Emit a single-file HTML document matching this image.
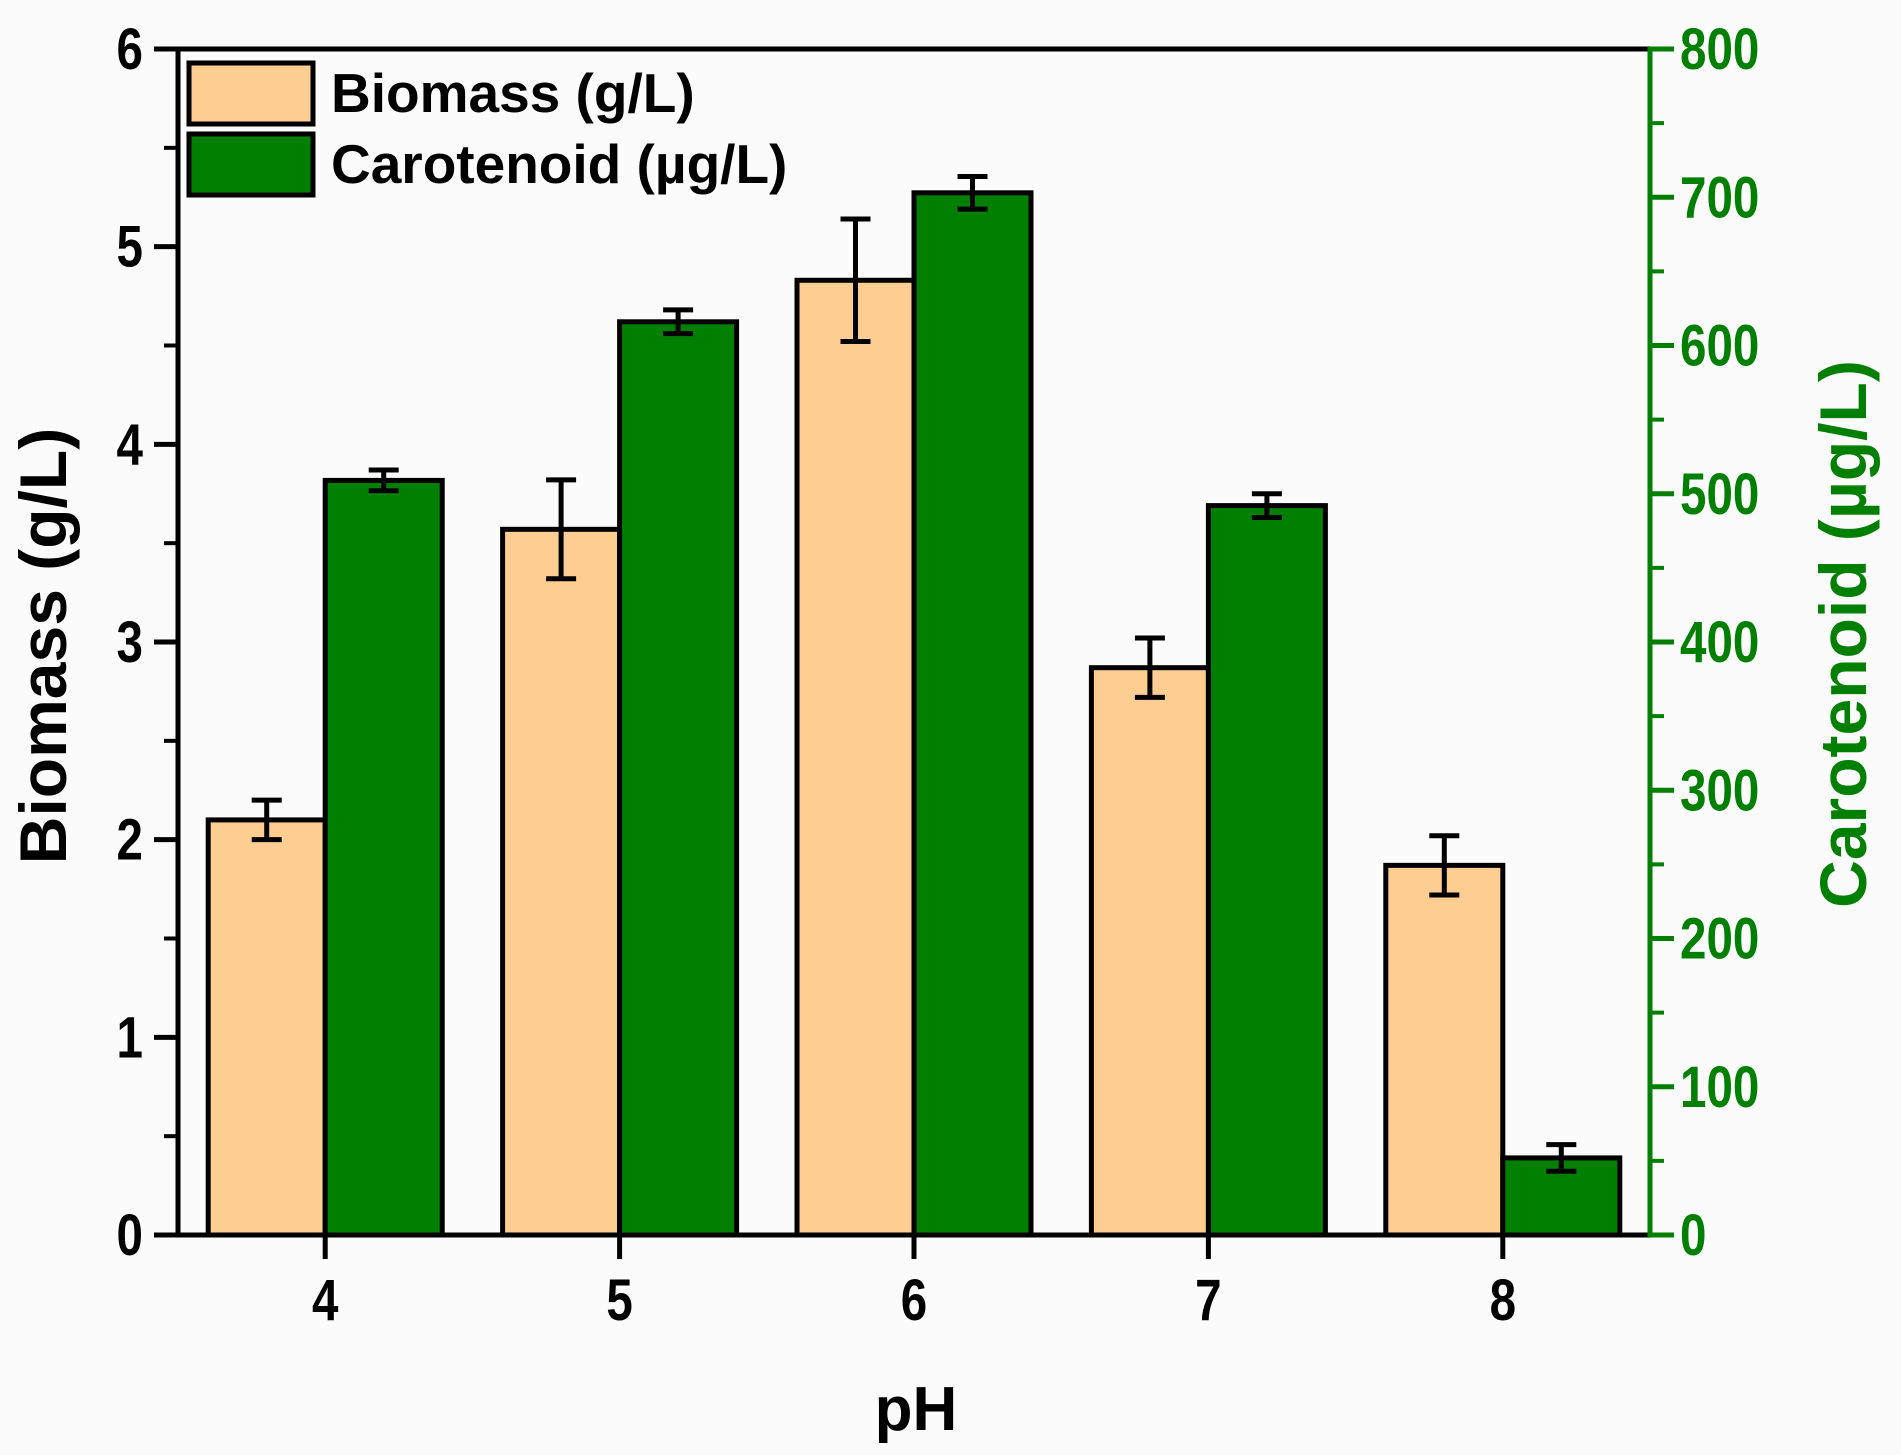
<!DOCTYPE html>
<html><head><meta charset="utf-8"><style>
html,body{margin:0;padding:0;background:#fafbfa;}
svg{display:block;font-family:"Liberation Sans",Arial,sans-serif;font-weight:bold;}
</style></head><body>
<svg id="chart" width="1901" height="1455" viewBox="0 0 1901 1455" xmlns="http://www.w3.org/2000/svg">
<rect x="0" y="0" width="1901" height="1455" fill="#fafbfa"/>
<g id="bars"></g>
<g id="axes"></g>
<g>
<rect x="189" y="63" width="124" height="61" fill="#fecd92" stroke="#000" stroke-width="5"/>
<text x="331" y="112" font-size="55">Biomass (g/L)</text>
<rect x="189" y="134" width="124" height="61" fill="#007f00" stroke="#000" stroke-width="5"/>
<text x="331" y="183" font-size="55">Carotenoid (µg/L)</text>
</g>
<text x="0" y="0" transform="translate(66,646) rotate(-90)" text-anchor="middle" font-size="66">Biomass (g/L)</text>
<text x="0" y="0" transform="translate(1866,634) rotate(-90)" text-anchor="middle" font-size="66" fill="#007f00">Carotenoid (µg/L)</text>
<text x="916" y="1430" text-anchor="middle" font-size="62">pH</text>
</svg>
<script>
const categories = ["4","5","6","7","8"];
const biomass = [2.1, 3.57, 4.83, 2.87, 1.87];
const biomassErr = [0.1, 0.25, 0.31, 0.15, 0.15];
const carotenoid = [509, 616, 703, 492, 52];
const carotenoidErr = [7, 8, 11, 8, 9];
const leftTicks = [0,1,2,3,4,5,6];
const rightTicks = [0,100,200,300,400,500,600,700,800];

const NS = "http://www.w3.org/2000/svg";
const L = 178, R = 1650, T = 49, B = 1235;
const xMin = 3.5, xMax = 8.5;
function xScale(i){ return L + ((i + 4) - xMin) / (xMax - xMin) * (R - L); }
function yLeft(v){ return B - v / 6 * (B - T); }
function yRight(v){ return B - v / 800 * (B - T); }
const bw = 117;
function mk(tag, attrs, parent){
  const e = document.createElementNS(NS, tag);
  for (const k in attrs) e.setAttribute(k, attrs[k]);
  parent.appendChild(e);
  return e;
}
const barsG = document.getElementById('bars');
const axesG = document.getElementById('axes');
function errBar(cx, yTop, yBot, name){
  const g = mk('g', {stroke:'#000','stroke-width':5}, barsG);
  
  
  mk('line', {x1:cx,x2:cx,y1:yTop,y2:yBot}, g);
  mk('line', {x1:cx-15,x2:cx+15,y1:yTop,y2:yTop}, g);
  mk('line', {x1:cx-15,x2:cx+15,y1:yBot,y2:yBot}, g);
}
function label(txt, x, y, anchor, fill, name){
  const t = mk('text', {transform:'translate(' + x + ',' + y + ') scale(0.82,1)', 'text-anchor':anchor, 'font-size':58, fill:fill}, axesG);
  t.textContent = txt;
  
  
}
categories.forEach((c, i) => {
  const cx = xScale(i);
  const y1 = yLeft(biomass[i]);
  const b = mk('rect', {x:cx-bw, y:y1, width:bw, height:B-y1, fill:'#fecd92', stroke:'#000','stroke-width':5}, barsG);
  
  
  const y2 = yRight(carotenoid[i]);
  const g = mk('rect', {x:cx, y:y2, width:bw, height:B-y2, fill:'#007f00', stroke:'#000','stroke-width':5}, barsG);
  
  
  errBar(cx - bw/2, yLeft(biomass[i] + biomassErr[i]), yLeft(biomass[i] - biomassErr[i]), 'error-bar-biomass-ph' + c);
  errBar(cx + bw/2, yRight(carotenoid[i] + carotenoidErr[i]), yRight(carotenoid[i] - carotenoidErr[i]), 'error-bar-carotenoid-ph' + c);
  const t = mk('line', {x1:cx,x2:cx,y1:B,y2:B+24,stroke:'#000','stroke-width':5}, axesG);
  
  
  label(c, cx, 1320, 'middle', '#000', 'x-tick-label');
});
const topLine = mk('line', {x1:L-2,x2:R,y1:T,y2:T,stroke:'#000','stroke-width':5}, axesG);


const botLine = mk('line', {x1:L-2,x2:R,y1:B,y2:B,stroke:'#000','stroke-width':5}, axesG);


const leftLine = mk('line', {x1:L,x2:L,y1:T,y2:B+2,stroke:'#000','stroke-width':5}, axesG);


const rightLine = mk('line', {x1:R,x2:R,y1:T-2,y2:B+2,stroke:'#007f00','stroke-width':5}, axesG);


leftTicks.forEach((v, i) => {
  const y = yLeft(v);
  const t = mk('line', {x1:L-24,x2:L,y1:y,y2:y,stroke:'#000','stroke-width':5}, axesG);
  
  
  if (i < leftTicks.length - 1) {
    const ym = yLeft(v + 0.5);
    const m = mk('line', {x1:L-14,x2:L,y1:ym,y2:ym,stroke:'#000','stroke-width':4}, axesG);
    
    
  }
  label(String(v), 143, y + 20, 'end', '#000', 'y-tick-label-left');
});
rightTicks.forEach((v, i) => {
  const y = yRight(v);
  const t = mk('line', {x1:R,x2:R+24,y1:y,y2:y,stroke:'#007f00','stroke-width':5}, axesG);
  
  
  if (i < rightTicks.length - 1) {
    const ym = yRight(v + 50);
    const m = mk('line', {x1:R,x2:R+14,y1:ym,y2:ym,stroke:'#007f00','stroke-width':4}, axesG);
    
    
  }
  label(String(v), 1680, y + 20, 'start', '#007f00', 'y-tick-label-right');
});
</script>
</body></html>
